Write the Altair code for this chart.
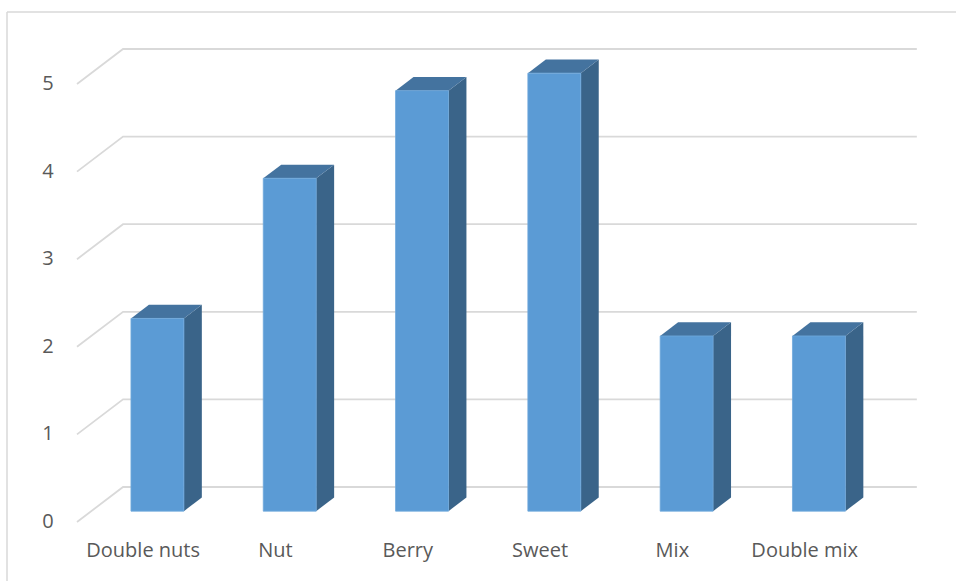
import altair as alt
import pandas as pd

# Categories and their scores
categories = ["Double nuts", "Nut", "Berry", "Sweet", "Mix", "Double mix"]
scores = [2.2, 3.8, 4.8, 5.0, 2.0, 2.0]
tick_values = [0, 1, 2, 3, 4, 5]

# Oblique projection used to fake the 3D look:
# a point (slot, value, depth) is drawn at X = slot + DX*depth, Y = value + DY*depth
DX = 0.348      # horizontal shift of the back wall (in category slots)
DY = 0.3995     # vertical shift of the back wall (in value units)
HALF_W = 0.2    # half width of a column (in category slots)
D_FRONT, D_BACK = 0.31, 0.70  # depth range occupied by each column

X_DOMAIN = [-0.582, 6.644]
Y_DOMAIN = [-0.6735, 5.959]

xs = alt.Scale(domain=X_DOMAIN, nice=False, zero=False)
ys = alt.Scale(domain=Y_DOMAIN, nice=False, zero=False)

FONT = "Open Sans"
TEXT_COLOR = "#595959"
GRID_COLOR = "#d9d9d9"

# Gridlines: a diagonal on the side wall, then along the back wall
grid_rows = []
for v in tick_values:
    pts = [(0.0, v), (DX, v + DY), (len(categories) + DX, v + DY)]
    for k, (gx, gy) in enumerate(pts):
        grid_rows.append({"tick": v, "k": k, "X": gx, "Y": gy})
grid_df = pd.DataFrame(grid_rows)

# Column faces
front_rows, side_rows, top_rows = [], [], []
for i, (cat, v) in enumerate(zip(categories, scores)):
    cx = i + 0.5
    front_rows.append({
        "cat": cat,
        "x": cx - HALF_W + DX * D_FRONT,
        "x2": cx + HALF_W + DX * D_FRONT,
        "y": DY * D_FRONT,
        "y2": v + DY * D_FRONT,
    })
    for d in (D_FRONT, D_BACK):
        side_rows.append({
            "cat": cat,
            "X": cx + HALF_W + DX * d,
            "lo": DY * d,
            "hi": v + DY * d,
        })
        top_rows.append({
            "cat": cat,
            "Y": v + DY * d,
            "lo": cx - HALF_W + DX * d,
            "hi": cx + HALF_W + DX * d,
        })
front_df = pd.DataFrame(front_rows)
side_df = pd.DataFrame(side_rows)
top_df = pd.DataFrame(top_rows)
label_df = pd.DataFrame({"cat": categories, "X": [i + 0.5 for i in range(len(categories))]})
tick_df = pd.DataFrame({"v": tick_values})

grid = alt.Chart(grid_df).mark_line(color=GRID_COLOR, strokeWidth=1.8).encode(
    x=alt.X("X:Q", scale=xs, axis=None),
    y=alt.Y("Y:Q", scale=ys, axis=None),
    detail="tick:N",
    order="k:Q",
)

# Value labels at the front edge of the side wall
tick_labels = alt.Chart(tick_df).mark_text(
    font=FONT, fontSize=20, color=TEXT_COLOR, baseline="middle", align="center"
).encode(
    x=alt.value(48),
    y=alt.Y("v:Q", scale=ys, axis=None),
    text=alt.Text("v:Q", format="d"),
)

side = alt.Chart(side_df).mark_area(color="#3a6489", opacity=1).encode(
    x=alt.X("X:Q", scale=xs, axis=None),
    y=alt.Y("hi:Q", scale=ys, axis=None),
    y2="lo:Q",
    detail="cat:N",
)

top = alt.Chart(top_df).mark_area(color="#44739f", orient="horizontal", opacity=1).encode(
    y=alt.Y("Y:Q", scale=ys, axis=None),
    x=alt.X("lo:Q", scale=xs, axis=None),
    x2="hi:Q",
    detail="cat:N",
)

front = alt.Chart(front_df).mark_rect(color="#5b9bd5", stroke="#6ea8dc", strokeWidth=0.8).encode(
    x=alt.X("x:Q", scale=xs, axis=None),
    x2="x2:Q",
    y=alt.Y("y:Q", scale=ys, axis=None),
    y2="y2:Q",
)

labels = alt.Chart(label_df).mark_text(
    font=FONT, fontSize=20, color=TEXT_COLOR, baseline="middle", align="center"
).encode(
    x=alt.X("X:Q", scale=xs, axis=None),
    y=alt.value(551),
    text="cat:N",
)

# Chart frame (top and left edges)
frame_top = alt.Chart(pd.DataFrame({"a": [0]})).mark_rule(color=GRID_COLOR, strokeWidth=1.5).encode(
    x=alt.value(7), x2=alt.value(956), y=alt.value(12)
)
frame_left = alt.Chart(pd.DataFrame({"a": [0]})).mark_rule(color=GRID_COLOR, strokeWidth=1.5).encode(
    x=alt.value(7), y=alt.value(12), y2=alt.value(581)
)

chart = alt.layer(
    frame_top, frame_left, grid, tick_labels, side, top, front, labels
).properties(
    width=956,
    height=581,
    padding=0,
    autosize=alt.AutoSizeParams(type="none"),
    background="white",
).configure_view(stroke=None)

chart.save("out.html", embed_options={"renderer": "svg", "actions": False})
